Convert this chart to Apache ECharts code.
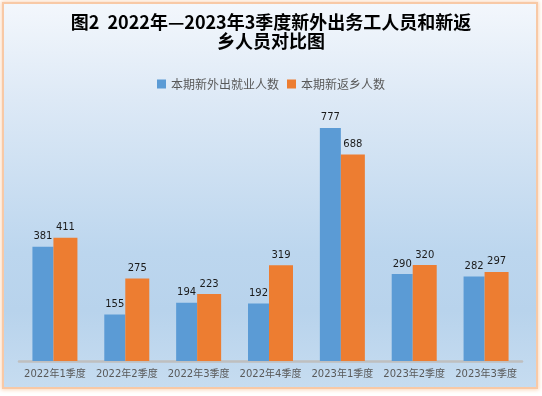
<!DOCTYPE html>
<html><head><meta charset="utf-8">
<script src="https://cdn.jsdelivr.net/npm/echarts@6/dist/echarts.min.js"></script>
<style>
html,body{margin:0;padding:0;background:#fff;}
#wrap{position:relative;width:542px;height:396px;overflow:hidden;}
#bg{position:absolute;left:2px;top:2px;width:536px;height:387px;box-sizing:border-box;border:2px solid #f8c9a6;box-shadow:0 0 4px 1px #fbd7bb;background:linear-gradient(to bottom,#f3f7fc 0%,#dde9f6 25%,#bcd6ee 65%,#b8d3ec 80%,#c6dcf0 100%);}
#chart{position:absolute;left:0;top:0;width:542px;height:396px;}
</style></head>
<body><div id="wrap"><div id="bg"></div><div id="chart"></div></div>
<script>
var categories = ['2022年1季度','2022年2季度','2022年3季度','2022年4季度','2023年1季度','2023年2季度','2023年3季度'];
var outgoing = [381,155,194,192,777,290,282];
var returning = [411,275,223,319,688,320,297];
var seriesNames = ['本期新外出就业人数','本期新返乡人数'];
var titleText = '图2  2022年—2023年3季度新外出务工人员和新返\n乡人员对比图';

var chart = echarts.init(document.getElementById('chart'), null, {renderer:'canvas'});
var labelStyle = {show:true, position:'top', distance:5, color:'#1a1a1a', fontSize:10, fontFamily:'DejaVu Sans'};
chart.setOption({
  backgroundColor:'transparent',
  animation:false,
  graphic:[{type:'text', left:'center', top:13,
    style:{text:titleText, textAlign:'center', fontFamily:'Noto Sans CJK SC', fontWeight:'bold', fontSize:18, lineHeight:19, fill:'#000'}}],
  legend:{data:seriesNames, left:'center', top:73, itemWidth:9, itemHeight:9, itemGap:8,
    icon:'rect', textStyle:{fontFamily:'Noto Sans CJK SC', fontSize:12, color:'#595959'}},
  grid:{left:19, right:20, top:91, bottom:35, containLabel:false},
  xAxis:{type:'category', data:categories,
    axisLine:{lineStyle:{color:'#bfbfbf', width:2.5}}, axisTick:{show:false},
    axisLabel:{color:'#595959', fontSize:10, fontFamily:'DejaVu Sans, Noto Sans CJK SC', margin:8, interval:0}},
  yAxis:{type:'value', min:0, max:900, show:false, splitLine:{show:false}},
  series:[
    {name:seriesNames[0], type:'bar', data:outgoing, barWidth:21, barGap:'0%',
      itemStyle:{color:'#5b9bd5'}, label:labelStyle},
    {name:seriesNames[1], type:'bar', data:returning, barWidth:24, barGap:'0%',
      itemStyle:{color:'#ed7d31'}, label:labelStyle}
  ]
});
</script></body></html>
